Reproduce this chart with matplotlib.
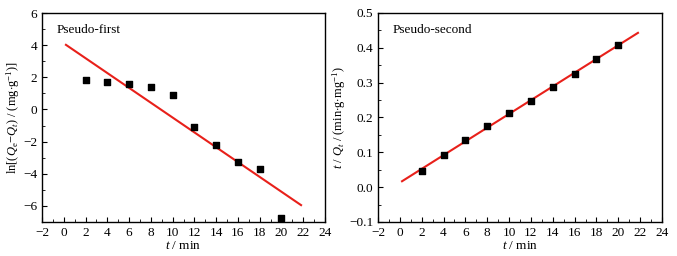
import matplotlib
matplotlib.use("Agg")
import matplotlib.pyplot as plt
import numpy as np
from matplotlib.ticker import MultipleLocator

plt.rcParams['font.family'] = ['Liberation Serif', 'DejaVu Serif']
plt.rcParams['mathtext.fontset'] = 'custom'
plt.rcParams['mathtext.rm'] = 'Liberation Serif'
plt.rcParams['mathtext.it'] = 'Liberation Serif:italic'

t = [2, 4, 6, 8, 10, 12, 14, 16, 18, 20]
ln_q = [1.85, 1.72, 1.60, 1.37, 0.88, -1.10, -2.20, -3.25, -3.72, -6.75]
t_q = [0.046, 0.092, 0.136, 0.177, 0.214, 0.246, 0.287, 0.326, 0.367, 0.408]
fit_x = [0.2, 21.8]
fit1 = [4.02, -5.95]
fit2 = [0.017, 0.443]

fig = plt.figure(figsize=(6.77, 2.56), dpi=100)
W, H = 677, 256
ax1 = fig.add_axes([42 / W, 1 - 222 / H, (325 - 42) / W, (222 - 13) / H])
ax2 = fig.add_axes([378 / W, 1 - 222 / H, (662 - 378) / W, (222 - 13) / H])

for ax in (ax1, ax2):
    ax.set_xlim(-2, 24)
    ax.xaxis.set_major_locator(MultipleLocator(2))
    ax.xaxis.set_minor_locator(MultipleLocator(1))
    ax.tick_params(which='both', direction='in', labelsize=9.5, top=False, right=False)
    ax.tick_params(which='major', length=3.5)
    ax.tick_params(which='minor', length=2)
    ax.set_xlabel(r'$t$ / min', fontsize=9.5, labelpad=1)
    for s in ax.spines.values():
        s.set_linewidth(1.0)

ax1.scatter(t, ln_q, marker='s', s=14, color='black', zorder=3)
ax1.plot(fit_x, fit1, color='#e8201a', lw=1.5)
ax1.set_ylim(-7, 6)
ax1.yaxis.set_major_locator(MultipleLocator(2))
ax1.yaxis.set_minor_locator(MultipleLocator(1))
ax1.set_ylabel(r'ln[($Q_{\rm e}$$-$$Q_t$) / (mg$\cdot$g$^{-1}$)]', fontsize=9, labelpad=1)
ax1.text(0.05, 0.92, 'Pseudo-first', transform=ax1.transAxes, fontsize=9.5, va='center')

ax2.scatter(t, t_q, marker='s', s=14, color='black', zorder=3)
ax2.plot(fit_x, fit2, color='#e8201a', lw=1.5)
ax2.set_ylim(-0.1, 0.5)
ax2.yaxis.set_major_locator(MultipleLocator(0.1))
ax2.yaxis.set_minor_locator(MultipleLocator(0.05))
ax2.yaxis.set_major_formatter(matplotlib.ticker.FuncFormatter(lambda v, p: f'{v:.1f}'.replace('-', '\u2212')))
ax2.set_ylabel(r'$t$ / $Q_t$ / (min$\cdot$g$\cdot$mg$^{-1}$)', fontsize=9, labelpad=1)
ax2.text(0.05, 0.92, 'Pseudo-second', transform=ax2.transAxes, fontsize=9.5, va='center')

fig.savefig('out.png', dpi=100)
